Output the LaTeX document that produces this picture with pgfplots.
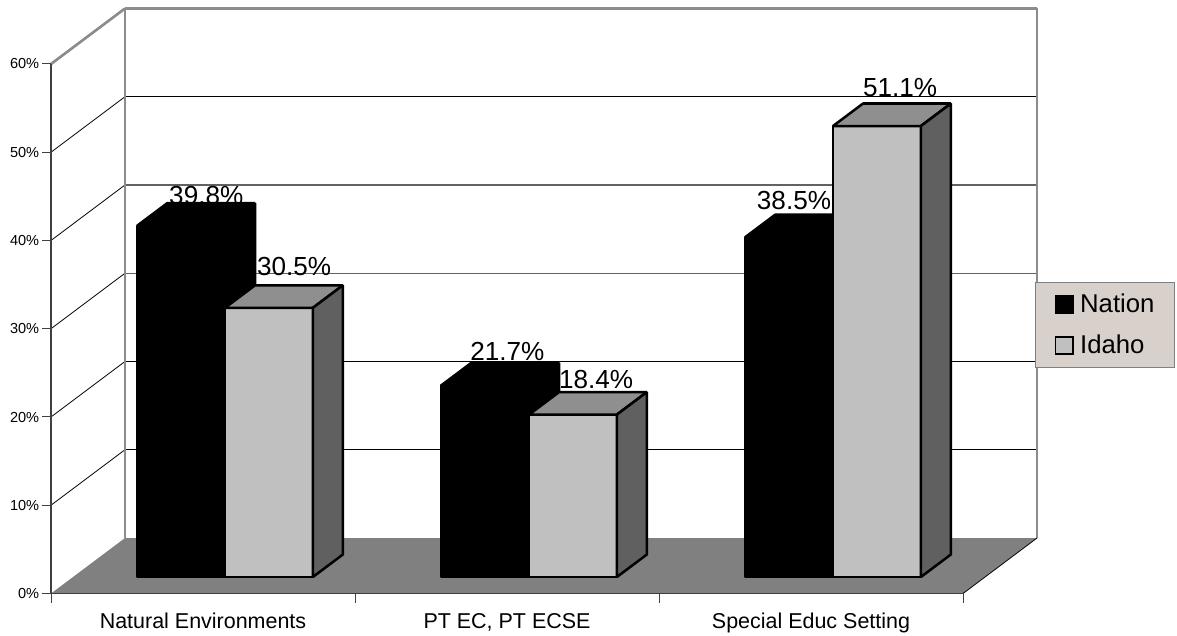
\documentclass[border=0pt]{standalone}
\usepackage{pgfplots}
\pgfplotsset{compat=1.18}
\usepackage{fontspec}
\setmainfont{Liberation Sans}
\definecolor{floorgray}{HTML}{808080}
\definecolor{wallgray}{HTML}{8C8C8C}
\definecolor{axisdark}{HTML}{404040}
\definecolor{idahofront}{HTML}{C0C0C0}
\definecolor{idahotop}{HTML}{8F8F8F}
\definecolor{idahoside}{HTML}{606060}
\definecolor{legendbg}{HTML}{D8D0CA}

% one cuboid: left edge, right edge, value, front, top and side fill
\newcommand{\cuboid}[6]{%
  \addplot3[forget plot,fill=#4,draw=black,line width=1.9pt,line join=bevel,no marks]
    coordinates {(#1,0.297,0) (#2,0.297,0) (#2,0.297,#3) (#1,0.297,#3)} -- cycle;
  \addplot3[forget plot,fill=#5,draw=black,line width=1.9pt,line join=bevel,no marks]
    coordinates {(#1,0.297,#3) (#2,0.297,#3) (#2,0.703,#3) (#1,0.703,#3)} -- cycle;
  \addplot3[forget plot,fill=#6,draw=black,line width=1.9pt,line join=bevel,no marks]
    coordinates {(#2,0.297,0) (#2,0.703,0) (#2,0.703,#3) (#2,0.297,#3)} -- cycle;
}
% value label standing behind the bar tops
\newcommand{\vlabel}[4]{%
  \node[anchor=base,inner sep=0pt,font=\fontsize{19.6pt}{22pt}\selectfont,xshift=#3pt,yshift=#4pt]
    at (axis cs:#1,0.703,#2) {#2\%};
}
% plain line segment of the chart frame
\newcommand{\seg}[3]{\addplot3[forget plot,no marks,#1] coordinates {#2 #3};}

\begin{document}
\begin{tikzpicture}
\useasboundingbox (0,0) rectangle (882.75pt,476.25pt);
\begin{axis}[
  at={(38.25pt,31.125pt)},anchor=origin,
  x={(228pt,0pt)},y={(55.5pt,41.625pt)},z={(0pt,6.61875pt)},
  xmin=0,xmax=3,ymin=0,ymax=1,zmin=0,zmax=60,
  clip=false,
  axis x line*=bottom,axis y line*=left,axis z line*=left,
  axis line style={draw=none},
  major tick length=0pt,
  ytick=\empty,
  xtick={0.5,1.5,2.5},
  xticklabels={Natural Environments,{PT EC, PT ECSE},Special Educ Setting},
  ztick={0,10,20,30,40,50,60},
  zticklabel={\pgfmathprintnumber{\tick}\%},
  /pgf/number format/assume math mode=true,
  xticklabel style={font=\fontsize{16.1pt}{18pt}\selectfont,anchor=base,yshift=-26pt,inner sep=0pt},
  zticklabel style={font=\fontsize{10.9pt}{13pt}\selectfont,anchor=east,xshift=-8.7pt,inner sep=0pt},
  legend style={at={(1.14,0.533)},anchor=north east,fill=legendbg,draw=floorgray,line width=0.75pt,
    font=\fontsize{19.3pt}{22pt}\selectfont,inner xsep=14pt,inner ysep=8pt,
    row sep=13pt,column sep=4pt,
    nodes={inner sep=1pt,anchor=base west}},
  legend cell align=left,
  legend image code/.code={\draw[#1] (0pt,-0.5pt) rectangle (13pt,12.5pt);},
]
\addlegendimage{fill=black,draw=black,line width=1.2pt}
\addlegendentry{Nation}
\addlegendimage{fill=idahofront,draw=black,line width=1.2pt}
\addlegendentry{Idaho}

% floor
\addplot3[forget plot,fill=floorgray,draw=none,no marks]
  coordinates {(0,0,0) (3,0,0) (3,1,0) (0,1,0)} -- cycle;
% grid lines on the back and side walls
\seg{draw=black,line width=0.6pt}{(0,1,50)}{(3,1,50)}
\seg{draw=wallgray!70!black,line width=1pt}{(0,1,40)}{(3,1,40)}
\seg{draw=wallgray!70!black,line width=1pt}{(0,1,30)}{(3,1,30)}
\seg{draw=black,line width=0.6pt}{(0,1,20)}{(3,1,20)}
\seg{draw=black,line width=0.6pt}{(0,1,10)}{(3,1,10)}
\seg{draw=black,line width=0.6pt}{(0,0,50)}{(0,1,50)}
\seg{draw=black,line width=0.6pt}{(0,0,40)}{(0,1,40)}
\seg{draw=black,line width=0.6pt}{(0,0,30)}{(0,1,30)}
\seg{draw=black,line width=0.6pt}{(0,0,20)}{(0,1,20)}
\seg{draw=black,line width=0.6pt}{(0,0,10)}{(0,1,10)}
% wall edges
\seg{draw=wallgray,line width=2pt}{(0,0,60)}{(0,1,60)}
\seg{draw=wallgray,line width=2pt}{(0,1,60)}{(3,1,60)}
\seg{draw=wallgray,line width=2pt}{(0,1,0)}{(0,1,60)}
\seg{draw=wallgray,line width=2pt}{(3,1,0)}{(3,1,60)}
\seg{draw=black,line width=0.6pt}{(3,0,0)}{(3,1,0)}
\seg{draw=axisdark,line width=1.3pt}{(0,0,0)}{(0,0,60)}
\seg{draw=axisdark,line width=1.3pt}{(0,0,0)}{(3,0,0)}
% tick marks
\seg{draw=axisdark,line width=0.75pt}{(0,0,0)}{(0,0,-1.13)}
\seg{draw=axisdark,line width=0.75pt}{(1,0,0)}{(1,0,-1.13)}
\seg{draw=axisdark,line width=0.75pt}{(2,0,0)}{(2,0,-1.13)}
\seg{draw=axisdark,line width=0.75pt}{(3,0,0)}{(3,0,-1.13)}
\seg{draw=axisdark,line width=0.75pt}{(-0.03,0,0)}{(0,0,0)}
\seg{draw=axisdark,line width=0.75pt}{(-0.03,0,10)}{(0,0,10)}
\seg{draw=axisdark,line width=0.75pt}{(-0.03,0,20)}{(0,0,20)}
\seg{draw=axisdark,line width=0.75pt}{(-0.03,0,30)}{(0,0,30)}
\seg{draw=axisdark,line width=0.75pt}{(-0.03,0,40)}{(0,0,40)}
\seg{draw=axisdark,line width=0.75pt}{(-0.03,0,50)}{(0,0,50)}
\seg{draw=axisdark,line width=0.75pt}{(-0.03,0,60)}{(0,0,60)}

% value labels
\vlabel{0.355}{39.8}{-3.5}{-1.1}
\vlabel{0.645}{30.5}{-3.7}{7.5}
\vlabel{1.355}{21.7}{-5.7}{1.8}
\vlabel{1.645}{18.4}{-5.2}{2.6}
\vlabel{2.355}{38.5}{-18.7}{4.1}
\vlabel{2.645}{51.1}{-5.2}{5.3}

% bars, left to right
\cuboid{0.211}{0.5}{39.8}{black}{black}{black}
\cuboid{0.5}{0.789}{30.5}{idahofront}{idahotop}{idahoside}
\cuboid{1.211}{1.5}{21.7}{black}{black}{black}
\cuboid{1.5}{1.789}{18.4}{idahofront}{idahotop}{idahoside}
\cuboid{2.211}{2.5}{38.5}{black}{black}{black}
\cuboid{2.5}{2.789}{51.1}{idahofront}{idahotop}{idahoside}
\end{axis}
\end{tikzpicture}
\end{document}
